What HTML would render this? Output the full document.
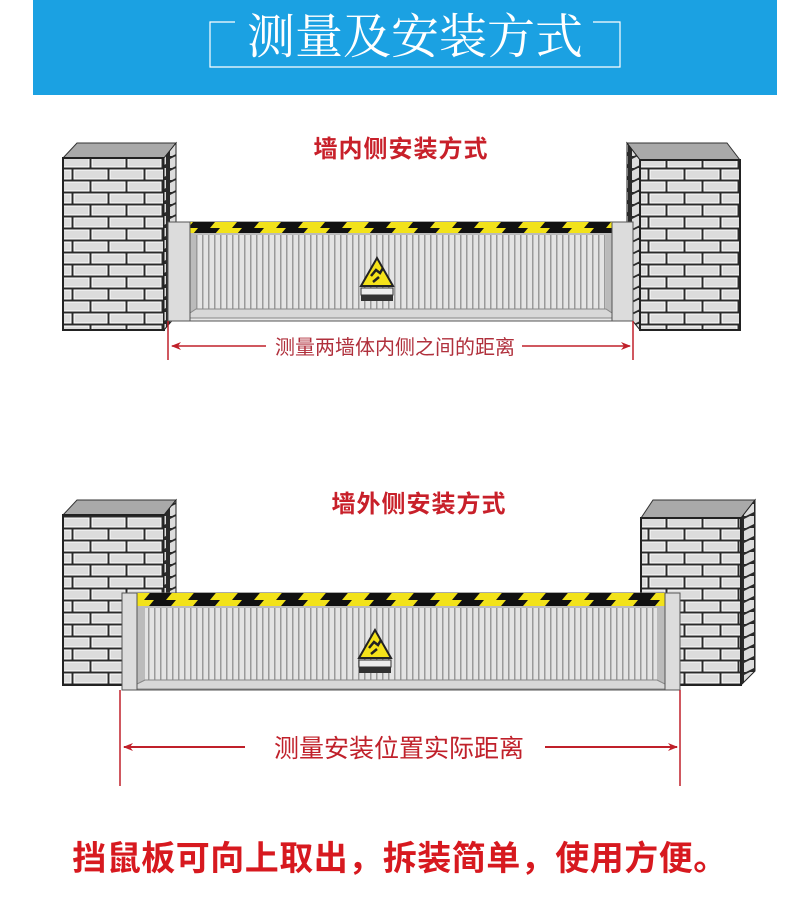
<!DOCTYPE html>
<html><head><meta charset="utf-8"><style>
html,body{margin:0;padding:0;background:#fff;}
svg{display:block;}
</style></head><body>
<svg width="807" height="910" viewBox="0 0 807 910" xmlns="http://www.w3.org/2000/svg">
<defs>
<pattern id="brick" x="0" y="0" width="72" height="24" patternUnits="userSpaceOnUse">
<rect width="72" height="24" fill="#2a2a2a"/>
<rect x="2" y="2" width="33" height="9" fill="#dcdcdc" stroke="#fff" stroke-width="1"/>
<rect x="38" y="2" width="33" height="9" fill="#dcdcdc" stroke="#fff" stroke-width="1"/>
<rect x="-16" y="14" width="33" height="9" fill="#dcdcdc" stroke="#fff" stroke-width="1"/>
<rect x="20" y="14" width="33" height="9" fill="#dcdcdc" stroke="#fff" stroke-width="1"/>
<rect x="56" y="14" width="33" height="9" fill="#dcdcdc" stroke="#fff" stroke-width="1"/>
</pattern>
<pattern id="side" x="0" y="0" width="14" height="12" patternUnits="userSpaceOnUse">
<rect width="14" height="12" fill="#2a2a2a"/>
<polygon points="2,3 12,-2 12,8 2,13" fill="#dcdcdc"/>
</pattern>
<pattern id="slat" x="0" y="0" width="6" height="10" patternUnits="userSpaceOnUse">
<rect width="6" height="10" fill="#e4e4e4"/>
<rect x="4" width="1.5" height="10" fill="#9a9a9a"/>
</pattern>
<pattern id="stripe" x="0" y="0" width="44" height="12" patternUnits="userSpaceOnUse">
<rect width="44" height="12" fill="#f2e21a"/>
<polygon points="22,0 44,0 34,12 12,12" fill="#111"/>
</pattern>
<marker id="ar" markerWidth="10" markerHeight="8" refX="9" refY="4" orient="auto" markerUnits="userSpaceOnUse">
<path d="M0,0 L10,4 L0,8 L3,4 z" fill="#c0202a"/>
</marker>
<g id="sign">
<polygon points="0,-22 -16,6 16,6" fill="#f5e21a" stroke="#222" stroke-width="2"/>
<path d="M-6,-4 l5,-6 l4,3 l3,-5 M-4,2 l6,-5" stroke="#222" stroke-width="2.5" fill="none"/>
<rect x="-16" y="8" width="32" height="7" fill="#eee" stroke="#333"/>
<rect x="-16" y="15" width="32" height="6" fill="#333"/>
</g>
</defs>

<rect x="33" y="0" width="744" height="95" fill="#1ba1e2"/>
<path d="M235,22 H210 V67 H620 V22 H593" fill="none" stroke="#fff" stroke-width="1.2"/>
<text x="415" y="53" text-anchor="middle" font-family="'Noto Serif CJK SC',serif" font-size="48" fill="#fff">测量及安装方式</text>

<text x="401" y="157" text-anchor="middle" font-family="'Noto Sans CJK SC',sans-serif" font-weight="bold" font-size="24" letter-spacing="1" fill="#c8202a">墙内侧安装方式</text>
<polygon points="63,158 77,143 176,143 164,158" fill="#a9a9a9" stroke="#333"/>
<rect x="63" y="158" width="101" height="172" fill="url(#brick)" stroke="#222" stroke-width="2"/>
<polygon points="164,158 176,143 176,316 164,330" fill="url(#side)" stroke="#222"/>
<polygon points="627,143 727,143 740,160 640,160" fill="#a9a9a9" stroke="#333"/>
<polygon points="627,143 640,160 640,330 627,314" fill="url(#side)" stroke="#222"/>
<rect x="640" y="160" width="100" height="170" fill="url(#brick)" stroke="#222" stroke-width="2"/>
<rect x="168" y="222" width="465" height="99" fill="#e8e8e8" stroke="#555"/>
<rect x="190" y="222" width="422" height="11" fill="url(#stripe)"/>
<rect x="190" y="233" width="422" height="80" fill="#bbb"/>
<rect x="196" y="235" width="410" height="74" fill="url(#slat)"/>
<polygon points="190,313 196,309 606,309 612,313 612,318 190,318" fill="#d8d8d8" stroke="#888"/>
<rect x="168" y="222" width="22" height="99" fill="#dcdcdc" stroke="#555"/>
<rect x="612" y="222" width="21" height="99" fill="#dcdcdc" stroke="#555"/>
<use href="#sign" x="377" y="280"/>
<line x1="168" y1="321" x2="168" y2="360" stroke="#c0202a" stroke-width="1.5"/>
<line x1="633" y1="321" x2="633" y2="360" stroke="#c0202a" stroke-width="1.5"/>
<line x1="266" y1="346" x2="172" y2="346" stroke="#c0202a" stroke-width="1.5" marker-end="url(#ar)"/>
<line x1="522" y1="346" x2="630" y2="346" stroke="#c0202a" stroke-width="1.5" marker-end="url(#ar)"/>
<text x="395" y="354" text-anchor="middle" font-family="'Noto Sans CJK SC',sans-serif" font-size="20" fill="#b0303c">测量两墙体内侧之间的距离</text>

<text x="419" y="512" text-anchor="middle" font-family="'Noto Sans CJK SC',sans-serif" font-weight="bold" font-size="24" letter-spacing="1" fill="#c8202a">墙外侧安装方式</text>
<polygon points="63,515 77,500 176,500 164,515" fill="#a9a9a9" stroke="#333"/>
<rect x="63" y="515" width="101" height="170" fill="url(#brick)" stroke="#222" stroke-width="2"/>
<polygon points="164,515 176,500 176,671 164,685" fill="url(#side)" stroke="#222"/>
<polygon points="641,518 653,500 755,500 741,518" fill="#a9a9a9" stroke="#333"/>
<rect x="641" y="518" width="100" height="167" fill="url(#brick)" stroke="#222" stroke-width="2"/>
<polygon points="741,518 755,500 755,671 741,685" fill="url(#side)" stroke="#222"/>
<rect x="122" y="593" width="558" height="97" fill="#e8e8e8" stroke="#555"/>
<rect x="137" y="593" width="528" height="13" fill="url(#stripe)"/>
<rect x="137" y="606" width="528" height="78" fill="#bbb"/>
<rect x="145" y="608" width="512" height="72" fill="url(#slat)"/>
<polygon points="137,684 145,680 657,680 665,684 665,689 137,689" fill="#d8d8d8" stroke="#888"/>
<rect x="122" y="593" width="15" height="97" fill="#dcdcdc" stroke="#555"/>
<rect x="665" y="593" width="15" height="97" fill="#dcdcdc" stroke="#555"/>
<use href="#sign" x="375" y="652"/>
<line x1="120" y1="690" x2="120" y2="786" stroke="#c0202a" stroke-width="1.5"/>
<line x1="680" y1="690" x2="680" y2="786" stroke="#c0202a" stroke-width="1.5"/>
<line x1="245" y1="747" x2="124" y2="747" stroke="#c0202a" stroke-width="2" marker-end="url(#ar)"/>
<line x1="545" y1="747" x2="677" y2="747" stroke="#c0202a" stroke-width="2" marker-end="url(#ar)"/>
<text x="399" y="757" text-anchor="middle" font-family="'Noto Sans CJK SC',sans-serif" font-size="25" fill="#c0202a">测量安装位置实际距离</text>

<text x="400" y="870" text-anchor="middle" font-family="'Noto Sans CJK SC',sans-serif" font-weight="bold" font-size="34" letter-spacing="0.5" fill="#d7191f">挡鼠板可向上取出，拆装简单，使用方便。</text>
</svg>
</body></html>
